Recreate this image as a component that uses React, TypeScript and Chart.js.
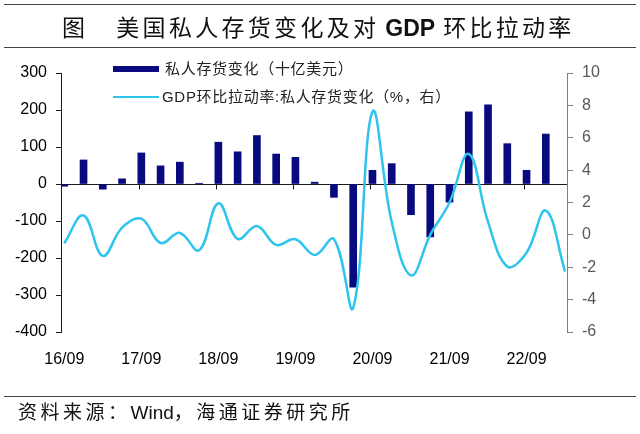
import React, { useEffect, useRef } from "react";
import { Chart, registerables } from "chart.js";

Chart.register(...registerables);

// ---- data ----
const categories = [
  "16/09", "16/12", "17/03", "17/06", "17/09", "17/12", "18/03", "18/06",
  "18/09", "18/12", "19/03", "19/06", "19/09", "19/12", "20/03", "20/06",
  "20/09", "20/12", "21/03", "21/06", "21/09", "21/12", "22/03", "22/06",
  "22/09", "22/12", "23/03",
];
const shownTickLabels = ["16/09", "17/09", "18/09", "19/09", "20/09", "21/09", "22/09"];

// 私人存货变化（十亿美元）
const inventoryChange: (number | null)[] = [
  -6, 65, -14, 14, 84, 49, 59, 2, 113, 87, 131, 81, 72, 5, -36, -279,
  37, 55, -83, -143, -49, 195, 214, 109, 37, 135, null,
];
// GDP环比拉动率:私人存货变化（%）
const gdpContribution: number[] = [
  -0.52, 1.2, -1.3, 0.45, 1.0, -0.5, 0.12, -0.95, 1.95, -0.25, 0.55, -0.62,
  -0.27, -1.24, -0.27, -4.5, 7.6, 0.8, -2.5, 0.0, 2.0, 5.0, 0.8, -1.95,
  -1.1, 1.5, -2.27,
];

const barLabel = "私人存货变化（十亿美元）";
const lineLabel = "GDP环比拉动率:私人存货变化（%，右）";
const titleParts = ["图", "美国私人存货变化及对", "GDP", "环比拉动率"];
const sourceParts = ["资料来源：", "Wind", "，海通证券研究所"];

const leftMin = -400, leftMax = 300, leftStep = 100;
const rightMin = -6, rightMax = 10, rightStep = 2;

const BAR_COLOR = "#0a0a80";
const LINE_COLOR = "#2ec4ee";
const FONT = '"Liberation Sans", Arial, "Noto Sans CJK SC", sans-serif';

const zeroLinePlugin = {
  id: "zeroLine",
  beforeDatasetsDraw(chart: any) {
    const { ctx, chartArea, scales } = chart;
    const y0 = Math.round(scales.y.getPixelForValue(0)) + 0.5;
    ctx.save();
    ctx.strokeStyle = "#1a1a1a";
    ctx.lineWidth = 1;
    ctx.beginPath();
    ctx.moveTo(chartArea.left, y0);
    ctx.lineTo(chartArea.right, y0);
    scales.x.ticks.forEach((t: any) => {
      const x = Math.round(scales.x.getPixelForValue(t.value) - 2.5) + 0.5;
      if (x > chartArea.left + 2) {
        ctx.moveTo(x, y0);
        ctx.lineTo(x, y0 + 5);
      }
    });
    ctx.stroke();
    ctx.restore();
  },
};

export default function App() {
  const canvasRef = useRef<HTMLCanvasElement | null>(null);

  useEffect(() => {
    const canvas = canvasRef.current;
    if (!canvas) return;
    const chart = new Chart(canvas, {
      type: "bar",
      data: {
        datasets: [
          {
            type: "line",
            label: lineLabel,
            data: gdpContribution.map((v, i) => ({ x: i, y: v })),
            yAxisID: "y2",
            xAxisID: "x",
            borderColor: LINE_COLOR,
            borderWidth: 2.5,
            pointRadius: 0,
            tension: 0.4,
            fill: false,
            order: 0,
          } as any,
          {
            type: "bar",
            label: barLabel,
            data: inventoryChange.map((v, i) => ({ x: i, y: v })),
            yAxisID: "y",
            xAxisID: "x",
            backgroundColor: BAR_COLOR,
            barThickness: 7,
            order: 1,
          } as any,
        ],
      },
      options: {
        responsive: false,
        animation: false,
        events: [],
        layout: { padding: { top: 73, left: 0, right: 0, bottom: 0 } },
        plugins: { legend: { display: false }, tooltip: { enabled: false } },
        scales: {
          x: {
            type: "linear",
            position: "bottom",
            min: -0.17,
            max: 26.1,
            offset: false,
            grid: { display: false },
            border: { display: false },
            ticks: {
              color: "#000",
              font: { family: FONT, size: 16 },
              padding: 10,
              maxRotation: 0,
              autoSkip: false,
              callback: (v: any) => categories[Math.round(Number(v))],
            },
            afterBuildTicks: (scale: any) => {
              scale.ticks = categories
                .map((c, i) => i)
                .filter((i) => shownTickLabels.includes(categories[i]))
                .map((i) => ({ value: i }));
            },
            afterFit: (scale: any) => {
              scale.height = 102;
            },
          },
          y: {
            type: "linear",
            position: "left",
            min: leftMin,
            max: leftMax,
            grid: {
              display: true,
              drawOnChartArea: false,
              drawTicks: true,
              tickLength: 5,
              color: "#1a1a1a",
            },
            border: { display: true, color: "#1a1a1a", width: 1 },
            ticks: {
              stepSize: leftStep,
              color: "#000",
              font: { family: FONT, size: 16 },
              padding: 9,
            },
            afterFit: (scale: any) => {
              scale.width = 61;
            },
          },
          y2: {
            type: "linear",
            position: "right",
            min: rightMin,
            max: rightMax,
            grid: {
              display: true,
              drawOnChartArea: false,
              drawTicks: true,
              tickLength: 6,
              color: "#7f7f7f",
            },
            border: { display: true, color: "#7f7f7f", width: 1 },
            ticks: {
              stepSize: rightStep,
              color: "#595959",
              font: { family: FONT, size: 16 },
              padding: 9,
            },
            afterFit: (scale: any) => {
              scale.width = 73;
            },
          },
        },
      },
      plugins: [zeroLinePlugin],
    });
    return () => chart.destroy();
  }, []);

  const cjk = '"Noto Sans CJK SC", sans-serif';
  return (
    <div
      style={{
        position: "absolute",
        left: 0,
        top: 0,
        width: 640,
        height: 434,
        background: "#fff",
        overflow: "hidden",
        fontFamily: FONT,
      }}
    >
      <canvas
        ref={canvasRef}
        width={640}
        height={434}
        style={{ position: "absolute", left: 0, top: 0, width: 640, height: 434 }}
      />
      {/* title */}
      <div style={{ position: "absolute", left: 4, top: 4, width: 632, height: 1, background: "#444" }} />
      <div style={{ position: "absolute", left: 4, top: 47, width: 632, height: 1, background: "#444" }} />
      <div
        style={{
          position: "absolute",
          left: 62,
          top: 11,
          height: 30,
          lineHeight: "30px",
          fontSize: 23,
          color: "#111",
          whiteSpace: "nowrap",
          fontFamily: cjk,
          letterSpacing: "3.3px",
        }}
      >
        <span>{titleParts[0]}</span>
        <span style={{ marginLeft: 28 }}>{titleParts[1]}</span>
        <span style={{ fontFamily: '"Liberation Sans", Arial, sans-serif', fontWeight: 700, margin: "0 8px 0 6px", letterSpacing: 0 }}>
          {titleParts[2]}
        </span>
        <span>{titleParts[3]}</span>
      </div>
      {/* legend */}
      <div style={{ position: "absolute", left: 113, top: 66, width: 46, height: 6, background: BAR_COLOR }} />
      <div
        style={{
          position: "absolute",
          left: 165,
          top: 59,
          height: 20,
          lineHeight: "20px",
          fontSize: 15,
          letterSpacing: "0.7px",
          color: "#222",
          whiteSpace: "nowrap",
        }}
      >
        {barLabel}
      </div>
      <div style={{ position: "absolute", left: 113, top: 96, width: 46, height: 2, background: LINE_COLOR }} />
      <div
        style={{
          position: "absolute",
          left: 162,
          top: 87,
          height: 20,
          lineHeight: "20px",
          fontSize: 15,
          letterSpacing: "0.7px",
          color: "#222",
          whiteSpace: "nowrap",
        }}
      >
        {lineLabel}
      </div>
      {/* source */}
      <div style={{ position: "absolute", left: 4, top: 396, width: 632, height: 1, background: "#444" }} />
      <div
        style={{
          position: "absolute",
          left: 18,
          top: 401,
          height: 24,
          lineHeight: "24px",
          fontSize: 19,
          color: "#111",
          whiteSpace: "nowrap",
        }}
      >
        <span style={{ letterSpacing: "3.5px" }}>{sourceParts[0]}</span>
        <span style={{ letterSpacing: 0 }}>{sourceParts[1]}</span>
        <span style={{ letterSpacing: "3.5px" }}>{sourceParts[2]}</span>
      </div>
    </div>
  );
}
